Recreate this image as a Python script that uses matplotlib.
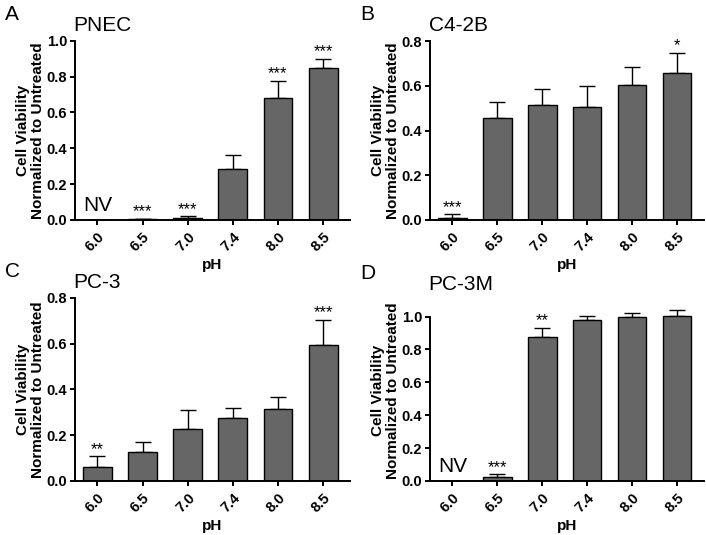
import numpy as np
import matplotlib.pyplot as plt

plt.rcParams['font.family'] = ['Liberation Sans', 'DejaVu Sans']

ph_labels = ['6.0', '6.5', '7.0', '7.4', '8.0', '8.5']

# panel A - PNEC
pnec_mean = [0.0, 0.004, 0.009, 0.283, 0.682, 0.849]
pnec_err = [0.0, 0.002, 0.010, 0.079, 0.093, 0.049]
pnec_sig = ['NV', '***', '***', '', '***', '***']

# panel B - C4-2B
c42b_mean = [0.010, 0.456, 0.516, 0.505, 0.605, 0.657]
c42b_err = [0.015, 0.073, 0.071, 0.096, 0.079, 0.091]
c42b_sig = ['***', '', '', '', '', '*']

# panel C - PC-3
pc3_mean = [0.063, 0.128, 0.229, 0.274, 0.315, 0.596]
pc3_err = [0.044, 0.043, 0.083, 0.044, 0.051, 0.108]
pc3_sig = ['**', '', '', '', '', '***']

# panel D - PC-3M
pc3m_mean = [0.0, 0.024, 0.876, 0.978, 1.000, 1.004]
pc3m_err = [0.0, 0.016, 0.057, 0.024, 0.024, 0.036]
pc3m_sig = ['NV', '***', '**', '', '', '']

panels = [
    ('A', 'PNEC', pnec_mean, pnec_err, pnec_sig, 1.0, 1.0,
     [0.106, 0.589, 0.390, 0.335]),
    ('B', 'C4-2B', c42b_mean, c42b_err, c42b_sig, 0.8, 0.8,
     [0.609, 0.589, 0.388, 0.334]),
    ('C', 'PC-3', pc3_mean, pc3_err, pc3_sig, 0.8, 0.8,
     [0.106, 0.101, 0.390, 0.342]),
    ('D', 'PC-3M', pc3m_mean, pc3m_err, pc3m_sig, 1.0, 1.1,
     [0.609, 0.101, 0.388, 0.338]),
]

fig = plt.figure(figsize=(7.06, 5.35), dpi=100)

for letter, name, mean, err, sig, ytop, ymax, pos in panels:
    ax = fig.add_axes(pos)
    x = np.arange(len(ph_labels))
    ax.bar(x, mean, width=0.64, color='#666666', edgecolor='black',
           linewidth=1.0, zorder=2)
    ax.errorbar(x, mean, yerr=[np.zeros(len(err)), err], fmt='none',
                ecolor='black', elinewidth=1.0, capsize=6, capthick=1.0,
                zorder=1)
    for xi, m, e, s in zip(x, mean, err, sig):
        if not s:
            continue
        if s == 'NV':
            ax.text(xi, m + e + 0.03 * ymax, s, ha='center', va='bottom',
                    fontsize=15)
        else:
            ax.text(xi, m + e + 0.04 * ymax, s, ha='center', va='center',
                    fontsize=12)
    ax.set_xlim(-0.5, 5.6)
    ax.set_ylim(0, ymax)
    yt = np.arange(0, ytop + 0.01, 0.2)
    ax.set_yticks(yt)
    ax.set_yticklabels(['%.1f' % v for v in yt], fontsize=10.5,
                       fontweight='bold')
    ax.set_xticks(x)
    ax.set_xticklabels(ph_labels, rotation=45, fontsize=10.5,
                       fontweight='bold', ha='right', rotation_mode='anchor')
    ax.spines['top'].set_visible(False)
    ax.spines['right'].set_visible(False)
    ax.spines['left'].set_bounds(0, ytop)
    ax.spines['left'].set_linewidth(1.4)
    ax.spines['bottom'].set_linewidth(1.4)
    ax.tick_params(axis='both', direction='out', width=1.4, length=3.5)
    ax.tick_params(axis='y', pad=2)
    ax.set_xlabel('pH', fontsize=11, fontweight='bold', labelpad=3)
    ax.set_ylabel('Cell Viability\nNormalized to Untreated', fontsize=11,
                  fontweight='bold', linespacing=1.1, labelpad=1)
    ax.annotate(name, xy=(0, 1), xycoords='axes fraction',
                xytext=(-1, 11), textcoords='offset points',
                fontsize=15, ha='left', va='center')
    fig.text(pos[0] - 0.099, pos[1] + pos[3] + 0.049, letter, fontsize=15,
             ha='left', va='center')

fig.savefig('out.png', dpi=100)
